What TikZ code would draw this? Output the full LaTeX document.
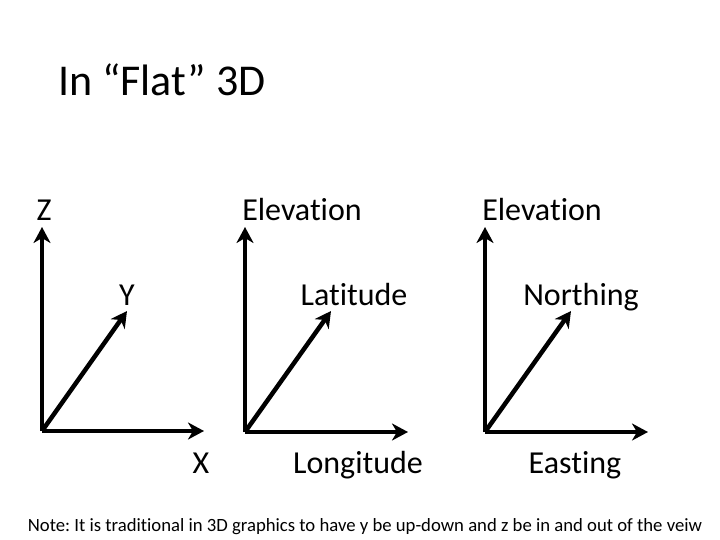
\documentclass[tikz,border=0pt]{standalone}
\usepackage{fontspec}
\setmainfont[Ligatures={NoCommon}]{Carlito}
\usetikzlibrary{arrows.meta}
\frenchspacing
\begin{document}
\begin{tikzpicture}[x=1pt,y=-1pt,
  axis/.style={line width=4.5pt,-{Stealth[length=16pt,width=17pt,inset=5pt]}},
  lbl/.style={font=\fontsize{32}{36}\selectfont,inner sep=0pt,anchor=base},
  ttl/.style={font=\fontsize{44}{50}\selectfont,inner sep=0pt,anchor=base west}]
\useasboundingbox (0,0) rectangle (720,540);
\node[ttl] (title) at (58,96) {In “Flat” 3D};
% left
\coordinate (o1) at (42,431);
\coordinate (z1) at (42,227);
\coordinate (y1) at (127,311);
\coordinate (x1) at (204,431);
\draw[axis] (o1) -- (z1);
\draw[axis] (o1) -- (y1);
\draw[axis] (o1) -- (x1);
\node[lbl] (lz) at (44,221) {Z};
\node[lbl] (ly) at (127,305) {Y};
\node[lbl] (lx) at (201,473) {X};
% middle
\coordinate (o2) at (245,432);
\coordinate (z2) at (245,227);
\coordinate (y2) at (331,311);
\coordinate (x2) at (408,432);
\draw[axis] (o2) -- (z2);
\draw[axis] (o2) -- (y2);
\draw[axis] (o2) -- (x2);
\node[lbl] (lz2) at (302,221) {Elevation};
\node[lbl] (ly2) at (354,305) {Latitude};
\node[lbl] (lx2) at (358,473) {Longitude};
% right
\coordinate (o3) at (485,432);
\coordinate (z3) at (485,227);
\coordinate (y3) at (571,311);
\coordinate (x3) at (648,432);
\draw[axis] (o3) -- (z3);
\draw[axis] (o3) -- (y3);
\draw[axis] (o3) -- (x3);
\node[lbl] (lz3) at (542,221) {Elevation};
\node[lbl] (ly3) at (581,305) {Northing};
\node[lbl] (lx3) at (575,473) {Easting};
\node[font=\fontsize{18.7}{20}\selectfont,inner sep=0pt,anchor=base] (note) at (365,531) {Note: It is traditional in 3D graphics to have y be up-down and z be in and out of the veiw};
\end{tikzpicture}
\end{document}
